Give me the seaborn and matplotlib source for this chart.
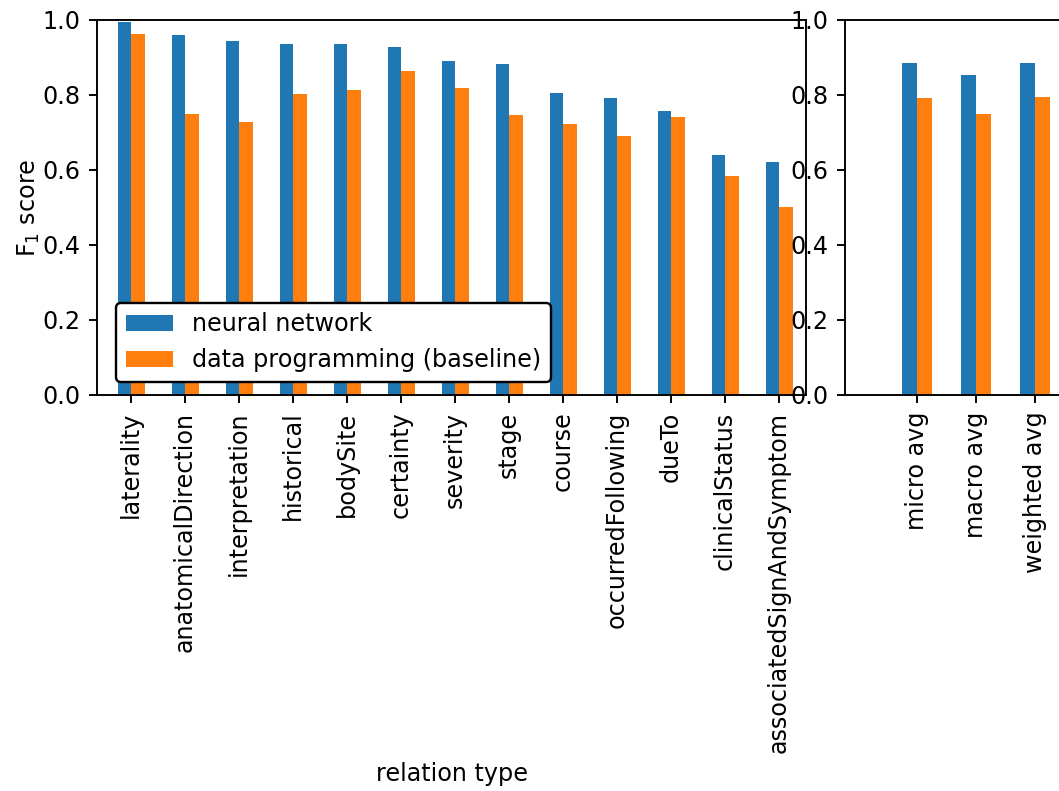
import matplotlib
matplotlib.use("Agg")
import matplotlib.pyplot as plt
import seaborn as sns
import pandas as pd

relations = ["laterality", "anatomicalDirection", "interpretation", "historical",
             "bodySite", "certainty", "severity", "stage", "course",
             "occurredFollowing", "dueTo", "clinicalStatus", "associatedSignAndSymptom"]
nn_scores = [0.995, 0.960, 0.944, 0.936, 0.936, 0.928, 0.891, 0.883, 0.805,
             0.792, 0.757, 0.640, 0.621]
dp_scores = [0.963, 0.749, 0.728, 0.803, 0.813, 0.864, 0.819, 0.747, 0.723,
             0.691, 0.741, 0.584, 0.501]

averages = ["micro avg", "macro avg", "weighted avg"]
nn_avg = [0.885, 0.853, 0.885]
dp_avg = [0.792, 0.749, 0.795]

series_names = ["neural network", "data programming (baseline)"]
palette = ["#1f77b4", "#ff7f0e"]


def long_form(cats, a, b):
    return pd.DataFrame({
        "category": cats * 2,
        "score": a + b,
        "model": [series_names[0]] * len(cats) + [series_names[1]] * len(cats),
    })


df_rel = long_form(relations, nn_scores, dp_scores)
df_avg = long_form(averages, nn_avg, dp_avg)

DPI = 172
W, H = 1059, 791
fig = plt.figure(figsize=(W / DPI, H / DPI), dpi=DPI)
ax1 = fig.add_axes([97 / W, 1 - 395 / H, (806 - 97) / W, (395 - 20) / H])
ax2 = fig.add_axes([845 / W, 1 - 395 / H, (1080 - 845) / W, (395 - 20) / H])

for ax, df in ((ax1, df_rel), (ax2, df_avg)):
    sns.barplot(data=df, x="category", y="score", hue="model", palette=palette,
                saturation=1, width=0.5, ax=ax, legend=(ax is ax1))
    ax.set_ylim(0, 1.0)
    ax.set_yticks([0.0, 0.2, 0.4, 0.6, 0.8, 1.0])
    ax.tick_params(axis="x", labelrotation=90)
    ax.set_ylabel("")
    ax.set_xlabel("")

ax1.set_xlim(-0.63, 12.5)
ax2.set_xlim(-72 / 59, -72 / 59 + (1080 - 845) / 59)

ax1.set_ylabel("F$_1$ score", labelpad=0)
ax1.set_xlabel("relation type")

leg = ax1.legend(loc="lower left", bbox_to_anchor=(19 / 709, 13 / 375),
                 borderaxespad=0, fancybox=True, framealpha=1, edgecolor="black")

fig.savefig("out.png", dpi=DPI)
